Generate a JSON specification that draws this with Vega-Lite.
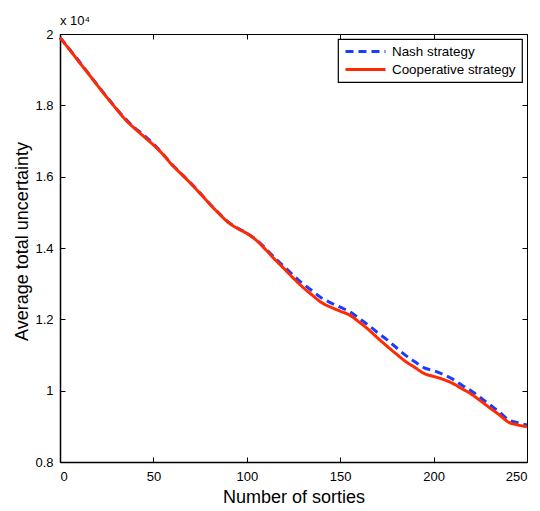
{
  "$schema": "https://vega.github.io/schema/vega-lite/v6.json",
  "width": 467,
  "height": 428,
  "autosize": {"type": "none"},
  "padding": {"left": 60, "top": 34, "right": 13, "bottom": 49},
  "background": "white",
  "title": {"text": "x 10⁴", "anchor": "start", "frame": "group", "fontSize": 13, "fontWeight": "normal", "font": "Liberation Sans", "color": "black", "offset": 0},
  "config": {
    "view": {"stroke": "black", "strokeWidth": 1},
    "axis": {"grid": false, "domainColor": "black", "tickColor": "black", "labelColor": "black", "titleColor": "black", "labelFont": "Liberation Sans", "titleFont": "Liberation Sans", "labelFontSize": 13, "titleFontSize": 18, "titleFontWeight": "normal", "tickSize": -5, "tickWidth": 1, "domainWidth": 1.5},
    "legend": {"orient": "top-right", "offset": 5, "strokeColor": "black", "strokeWidth": 1.2, "fillColor": "white", "padding": 6, "symbolType": "stroke", "symbolSize": 1600, "symbolStrokeWidth": 3, "labelFontSize": 13.4, "labelFont": "Liberation Sans", "labelColor": "black", "rowPadding": 4, "clipHeight": 13, "labelLimit": 0, "labelOffset": 5}
  },
  "data": {"values": [
    {"n":0,"s":"Cooperative strategy","v":19900},{"n":5,"s":"Cooperative strategy","v":19570},{"n":10,"s":"Cooperative strategy","v":19230},{"n":15,"s":"Cooperative strategy","v":18900},{"n":20,"s":"Cooperative strategy","v":18560},{"n":25,"s":"Cooperative strategy","v":18230},{"n":30,"s":"Cooperative strategy","v":17910},{"n":35,"s":"Cooperative strategy","v":17600},{"n":40,"s":"Cooperative strategy","v":17350},{"n":45,"s":"Cooperative strategy","v":17120},{"n":50,"s":"Cooperative strategy","v":16890},{"n":55,"s":"Cooperative strategy","v":16630},{"n":60,"s":"Cooperative strategy","v":16330},{"n":65,"s":"Cooperative strategy","v":16070},{"n":70,"s":"Cooperative strategy","v":15810},{"n":75,"s":"Cooperative strategy","v":15530},{"n":80,"s":"Cooperative strategy","v":15240},{"n":85,"s":"Cooperative strategy","v":14970},{"n":90,"s":"Cooperative strategy","v":14720},{"n":95,"s":"Cooperative strategy","v":14550},{"n":100,"s":"Cooperative strategy","v":14410},{"n":105,"s":"Cooperative strategy","v":14220},{"n":110,"s":"Cooperative strategy","v":13960},{"n":115,"s":"Cooperative strategy","v":13680},{"n":120,"s":"Cooperative strategy","v":13420},{"n":125,"s":"Cooperative strategy","v":13150},{"n":130,"s":"Cooperative strategy","v":12900},{"n":135,"s":"Cooperative strategy","v":12680},{"n":140,"s":"Cooperative strategy","v":12470},{"n":145,"s":"Cooperative strategy","v":12340},{"n":150,"s":"Cooperative strategy","v":12230},{"n":155,"s":"Cooperative strategy","v":12120},{"n":160,"s":"Cooperative strategy","v":11930},{"n":165,"s":"Cooperative strategy","v":11720},{"n":170,"s":"Cooperative strategy","v":11480},{"n":175,"s":"Cooperative strategy","v":11250},{"n":180,"s":"Cooperative strategy","v":11030},{"n":185,"s":"Cooperative strategy","v":10820},{"n":190,"s":"Cooperative strategy","v":10650},{"n":195,"s":"Cooperative strategy","v":10480},{"n":200,"s":"Cooperative strategy","v":10400},{"n":205,"s":"Cooperative strategy","v":10320},{"n":210,"s":"Cooperative strategy","v":10210},{"n":215,"s":"Cooperative strategy","v":10060},{"n":220,"s":"Cooperative strategy","v":9910},{"n":225,"s":"Cooperative strategy","v":9720},{"n":230,"s":"Cooperative strategy","v":9520},{"n":235,"s":"Cooperative strategy","v":9330},{"n":240,"s":"Cooperative strategy","v":9120},{"n":245,"s":"Cooperative strategy","v":9040},{"n":250,"s":"Cooperative strategy","v":8990},
    {"n":0,"s":"Nash strategy","v":19900},{"n":5,"s":"Nash strategy","v":19580},{"n":10,"s":"Nash strategy","v":19250},{"n":15,"s":"Nash strategy","v":18910},{"n":20,"s":"Nash strategy","v":18570},{"n":25,"s":"Nash strategy","v":18240},{"n":30,"s":"Nash strategy","v":17920},{"n":35,"s":"Nash strategy","v":17620},{"n":40,"s":"Nash strategy","v":17370},{"n":45,"s":"Nash strategy","v":17160},{"n":50,"s":"Nash strategy","v":16920},{"n":55,"s":"Nash strategy","v":16640},{"n":60,"s":"Nash strategy","v":16340},{"n":65,"s":"Nash strategy","v":16080},{"n":70,"s":"Nash strategy","v":15820},{"n":75,"s":"Nash strategy","v":15540},{"n":80,"s":"Nash strategy","v":15250},{"n":85,"s":"Nash strategy","v":14980},{"n":90,"s":"Nash strategy","v":14730},{"n":95,"s":"Nash strategy","v":14560},{"n":100,"s":"Nash strategy","v":14420},{"n":105,"s":"Nash strategy","v":14230},{"n":110,"s":"Nash strategy","v":13990},{"n":115,"s":"Nash strategy","v":13720},{"n":120,"s":"Nash strategy","v":13480},{"n":125,"s":"Nash strategy","v":13230},{"n":130,"s":"Nash strategy","v":13000},{"n":135,"s":"Nash strategy","v":12800},{"n":140,"s":"Nash strategy","v":12600},{"n":145,"s":"Nash strategy","v":12460},{"n":150,"s":"Nash strategy","v":12340},{"n":155,"s":"Nash strategy","v":12220},{"n":160,"s":"Nash strategy","v":12030},{"n":165,"s":"Nash strategy","v":11840},{"n":170,"s":"Nash strategy","v":11630},{"n":175,"s":"Nash strategy","v":11430},{"n":180,"s":"Nash strategy","v":11210},{"n":185,"s":"Nash strategy","v":10990},{"n":190,"s":"Nash strategy","v":10810},{"n":195,"s":"Nash strategy","v":10640},{"n":200,"s":"Nash strategy","v":10560},{"n":205,"s":"Nash strategy","v":10460},{"n":210,"s":"Nash strategy","v":10330},{"n":215,"s":"Nash strategy","v":10160},{"n":220,"s":"Nash strategy","v":10000},{"n":225,"s":"Nash strategy","v":9810},{"n":230,"s":"Nash strategy","v":9610},{"n":235,"s":"Nash strategy","v":9410},{"n":240,"s":"Nash strategy","v":9190},{"n":245,"s":"Nash strategy","v":9100},{"n":250,"s":"Nash strategy","v":9040}
  ]},
  "layer": [
    {
      "transform": [{"filter": "datum.s === 'Nash strategy'"}],
      "mark": {"type": "line", "strokeWidth": 3, "interpolate": "monotone"},
      "encoding": {
        "x": {"field": "n", "type": "quantitative", "scale": {"domain": [0, 250], "nice": false}, "axis": {"orient": "bottom", "values": [0, 50, 100, 150, 200, 250], "title": "Number of sorties", "titleBaseline": "alphabetic", "titleY": 40, "labelPadding": 13}},
        "y": {"field": "v", "type": "quantitative", "scale": {"domain": [8000, 20000], "nice": false, "zero": false}, "axis": {"orient": "left", "values": [8000, 10000, 12000, 14000, 16000, 18000, 20000], "labelExpr": "format(datum.value/10000, '.1~f')", "title": "Average total uncertainty", "titleX": -29, "titleY": 207, "titleBaseline": "bottom", "labelPadding": 12}},
        "color": {"field": "s", "type": "nominal", "scale": {"domain": ["Nash strategy", "Cooperative strategy"], "range": ["#1a3cff", "#ff2a00"]}, "legend": {"title": null}},
        "strokeDash": {"field": "s", "type": "nominal", "scale": {"domain": ["Nash strategy", "Cooperative strategy"], "range": [[8, 5], [1, 0]]}, "legend": {"title": null}}
      }
    },
    {
      "transform": [{"filter": "datum.s === 'Cooperative strategy'"}],
      "mark": {"type": "line", "strokeWidth": 3, "interpolate": "monotone"},
      "encoding": {
        "x": {"field": "n", "type": "quantitative", "scale": {"domain": [0, 250], "nice": false}, "axis": {"orient": "top", "values": [0, 50, 100, 150, 200, 250], "labels": false, "title": null, "domainWidth": 1}},
        "y": {"field": "v", "type": "quantitative", "scale": {"domain": [8000, 20000], "nice": false, "zero": false}, "axis": {"orient": "right", "values": [8000, 10000, 12000, 14000, 16000, 18000, 20000], "labels": false, "title": null, "domainWidth": 1}},
        "color": {"field": "s", "type": "nominal", "scale": {"domain": ["Nash strategy", "Cooperative strategy"], "range": ["#1a3cff", "#ff2a00"]}, "legend": {"title": null}},
        "strokeDash": {"field": "s", "type": "nominal", "scale": {"domain": ["Nash strategy", "Cooperative strategy"], "range": [[8, 5], [1, 0]]}, "legend": {"title": null}}
      }
    }
  ],
  "resolve": {"axis": {"x": "independent", "y": "independent"}}
}
